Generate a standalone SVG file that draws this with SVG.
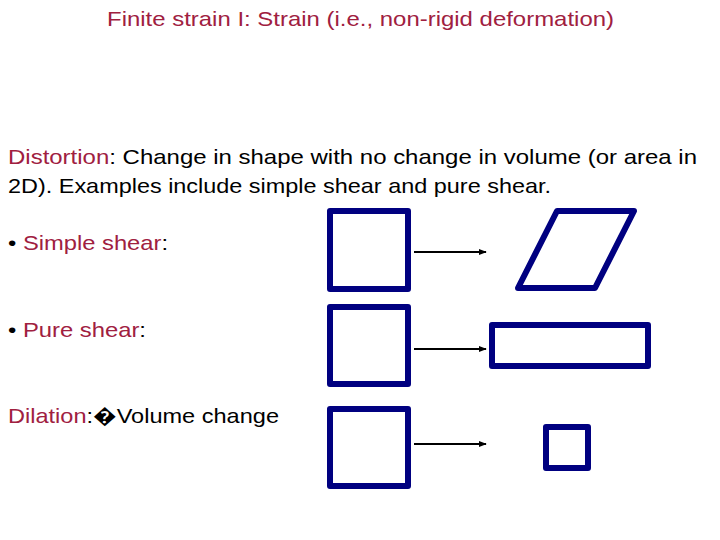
<svg xmlns="http://www.w3.org/2000/svg" width="720" height="540" viewBox="0 0 720 540">
<style>
text{font-family:"Liberation Sans",Arial,sans-serif;font-size:21px;fill:#000}
.r{fill:#A0203F}
.shape{fill:none;stroke:#000080;stroke-width:6;stroke-linejoin:round}
.arr{stroke:#000;stroke-width:2;fill:none}
</style>
<defs>
<marker id="ah" viewBox="0 0 10 10" refX="9" refY="5" markerWidth="4" markerHeight="4" orient="auto" markerUnits="strokeWidth">
<path d="M0,1 L10,5 L0,9 z" fill="#000"/>
</marker>
</defs>
<rect width="720" height="540" fill="#fff"/>
<g id="title"><text class="r" x="107" y="26" textLength="507" lengthAdjust="spacingAndGlyphs">Finite strain I: Strain (i.e., non-rigid deformation)</text></g>
<g id="intro">
<text x="8" y="164" textLength="689" lengthAdjust="spacingAndGlyphs"><tspan class="r">Distortion</tspan>: Change in shape with no change in volume (or area in</text>
<text x="8" y="193" textLength="543" lengthAdjust="spacingAndGlyphs">2D). Examples include simple shear and pure shear.</text>
</g>
<g id="label-simple"><text x="8" y="250" textLength="160" lengthAdjust="spacingAndGlyphs">• <tspan class="r">Simple shear</tspan>:</text></g>
<g id="label-pure"><text x="8" y="337" textLength="138" lengthAdjust="spacingAndGlyphs">• <tspan class="r">Pure shear</tspan>:</text></g>
<g id="label-dilation"><text x="8" y="423" textLength="271" lengthAdjust="spacingAndGlyphs"><tspan class="r">Dilation</tspan>:�Volume change</text></g>
<g id="sq1"><rect class="shape" x="330" y="211" width="78" height="78"/></g>
<g id="para"><polygon class="shape" points="557,211 634,211 595,288 518,288"/></g>
<g id="sq2"><rect class="shape" x="330" y="307" width="78" height="77"/></g>
<g id="rect2"><rect class="shape" x="492" y="325" width="156" height="41"/></g>
<g id="sq3"><rect class="shape" x="330" y="409" width="78" height="77"/></g>
<g id="sq-small"><rect class="shape" x="546" y="427" width="42" height="41"/></g>
<g id="connectors">
<line class="arr" x1="414" y1="252" x2="486" y2="252" marker-end="url(#ah)"/>
<line class="arr" x1="414" y1="349" x2="486" y2="349" marker-end="url(#ah)"/>
<line class="arr" x1="414" y1="444" x2="486" y2="444" marker-end="url(#ah)"/>
</g>
</svg>
